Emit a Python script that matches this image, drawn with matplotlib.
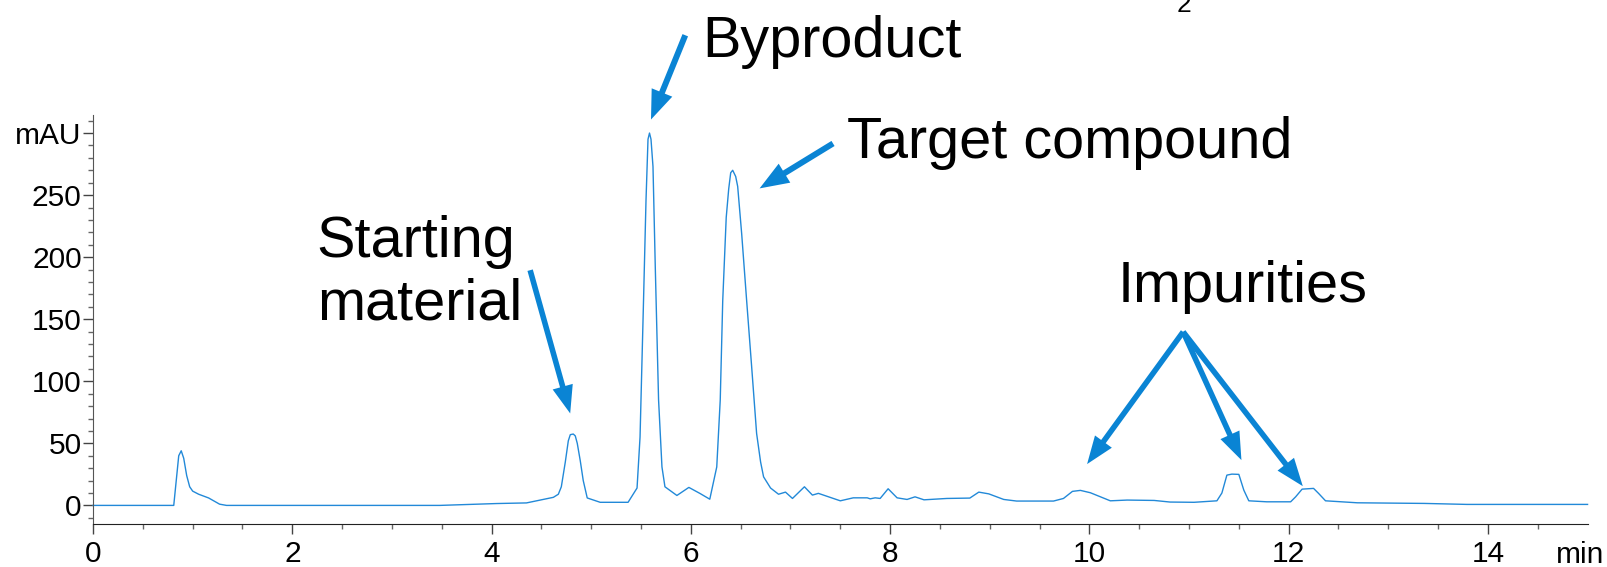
# Import libraries
import numpy as np
import matplotlib.pyplot as plt
from matplotlib.ticker import FixedLocator

plt.rcParams['font.family'] = ['Liberation Sans', 'DejaVu Sans']

# Chromatogram trace (retention time in min, signal in mAU)
time_min = [0.00, 0.81, 0.835, 0.86, 0.885, 0.91, 0.94, 0.97, 1.00, 1.06, 1.16, 1.27, 1.34,
            3.48, 4.05, 4.35, 4.62, 4.67, 4.70, 4.74, 4.77, 4.79, 4.82, 4.84, 4.86, 4.89,
            4.92, 4.96, 5.09, 5.37, 5.46, 5.49, 5.525, 5.55, 5.57, 5.585, 5.60, 5.62,
            5.643, 5.676, 5.71, 5.74, 5.86, 5.98, 6.09, 6.19, 6.26, 6.295, 6.32, 6.355,
            6.38, 6.40, 6.42, 6.45, 6.47, 6.51, 6.56, 6.61, 6.66, 6.70, 6.73, 6.80, 6.88,
            6.95, 7.02, 7.14, 7.22, 7.28, 7.50, 7.63, 7.77, 7.80, 7.85, 7.90, 7.98, 8.07,
            8.17, 8.25, 8.34, 8.57, 8.80, 8.89, 8.99, 9.14, 9.27, 9.64, 9.74, 9.83, 9.91,
            10.01, 10.21, 10.38, 10.65, 10.81, 11.05, 11.28, 11.33, 11.38, 11.43, 11.50,
            11.55, 11.60, 11.78, 12.02, 12.07, 12.135, 12.25, 12.30, 12.37, 12.69, 13.36,
            13.79, 15.00]
signal_mau = [0, 0, 20, 40, 44, 38, 24, 15, 11.5, 9, 6, 1, 0,
              0, 1.5, 2, 6.5, 9, 15, 35, 52, 57, 57.5, 56, 50, 36,
              20, 6, 2.5, 2.5, 14, 55, 165, 246, 295, 300, 295, 273,
              192, 85, 31, 15, 8, 14.5, 9.7, 5, 31, 85, 165, 232,
              255, 268, 270, 265, 257, 219, 165, 112, 58, 35, 23, 14, 9,
              10.7, 5.6, 15, 8.3, 9.7, 3.7, 6.1, 6.1, 5.3, 6.1, 5.6, 13.4, 6.1,
              4.8, 6.9, 4.5, 5.6, 5.9, 10.7, 9.3, 4.8, 3.5, 3.5, 5.6, 11.3, 12.1,
              10.2, 3.7, 4.3, 4.0, 2.7, 2.5, 3.7, 10, 24.4, 25.2, 25,
              12.3, 3.7, 2.9, 2.9, 6.9, 13.1, 13.7, 9.7, 3.7, 2.1, 1.6,
              0.8, 0.8]

# Tick labels
x_major = [0, 2, 4, 6, 8, 10, 12, 14]
y_major = [0, 50, 100, 150, 200, 250, 300]
y_labels = ['0', '50', '100', '150', '200', '250', 'mAU']

line_color = '#2289d8'
arrow_color = '#0a84d4'


def arrow(ax, tail, tip, width=4.0, headwidth=15, headlength=20):
    ax.annotate('', xy=tip, xytext=tail, annotation_clip=False,
                arrowprops=dict(width=width, headwidth=headwidth, headlength=headlength,
                                shrink=0, color=arrow_color, lw=0))


def draw():
    fig = plt.figure(figsize=(16.07, 5.67), dpi=100)
    ax = fig.add_axes([0.0579, 0.0758, 0.9300, 0.7213])

    ax.plot(time_min, signal_mau, color=line_color, lw=1.0, clip_on=False)

    ax.set_xlim(0, 15)
    ax.set_ylim(-15, 314.5)
    for side in ['top', 'right']:
        ax.spines[side].set_visible(False)
    ax.spines['left'].set_color('#555555')
    ax.spines['bottom'].set_color('#222222')

    ax.xaxis.set_major_locator(FixedLocator(x_major))
    ax.xaxis.set_minor_locator(FixedLocator([t for t in np.arange(0.5, 15, 0.5) if t % 2]))
    ax.set_xticklabels([str(t) for t in x_major])
    ax.yaxis.set_major_locator(FixedLocator(y_major))
    ax.yaxis.set_minor_locator(FixedLocator([v for v in range(-10, 320, 10) if v % 50]))
    ax.set_yticklabels(y_labels)

    ax.tick_params(axis='both', which='major', labelsize=21.5, length=7.2, width=1,
                   color='#444444')
    ax.tick_params(axis='both', which='minor', length=3.8, width=1, color='#666666')
    ax.tick_params(axis='x', which='major', pad=4.5)
    ax.tick_params(axis='y', which='major', pad=1)

    fig.text(1604 / 1607, 1 - 563 / 567, 'min', ha='right', va='baseline', fontsize=21.5)

    # Annotations
    fs = 41.5
    ax.text(6.111, 360.9, 'Byproduct', fontsize=fs, va='baseline', clip_on=False)
    arrow(ax, (5.944, 378.8), (5.60, 310.9), width=4.3, headwidth=16, headlength=21)

    ax.text(7.567, 279.5, 'Target compound', fontsize=fs, va='baseline', clip_on=False)
    arrow(ax, (7.427, 291.6), (6.690, 255.4), width=4.3, headwidth=16, headlength=21)

    # baseline of the second line ("material")
    ax.text(2.246, 149.9, 'Starting\nmaterial', fontsize=fs, va='baseline',
            linespacing=1.2, clip_on=False)
    arrow(ax, (4.387, 189.5), (4.789, 74.1))

    ax.text(10.284, 164.0, 'Impurities', fontsize=fs, va='baseline', clip_on=False)
    arrow(ax, (10.941, 139.8), (9.977, 33.3))
    arrow(ax, (10.941, 139.8), (11.526, 36.5))
    arrow(ax, (10.941, 139.8), (12.142, 15.5))

    # label cut off at the top edge
    fig.text(1166 / 1607, 1 - 0.5 / 567, 'R', ha='right', va='baseline', fontsize=fs)
    fig.text(1177 / 1607, 1 - 11.5 / 567, '2', ha='left', va='baseline', fontsize=19)

    fig.savefig('out.png', dpi=100)


def main():
    draw()


if __name__ == "__main__":
    main()
